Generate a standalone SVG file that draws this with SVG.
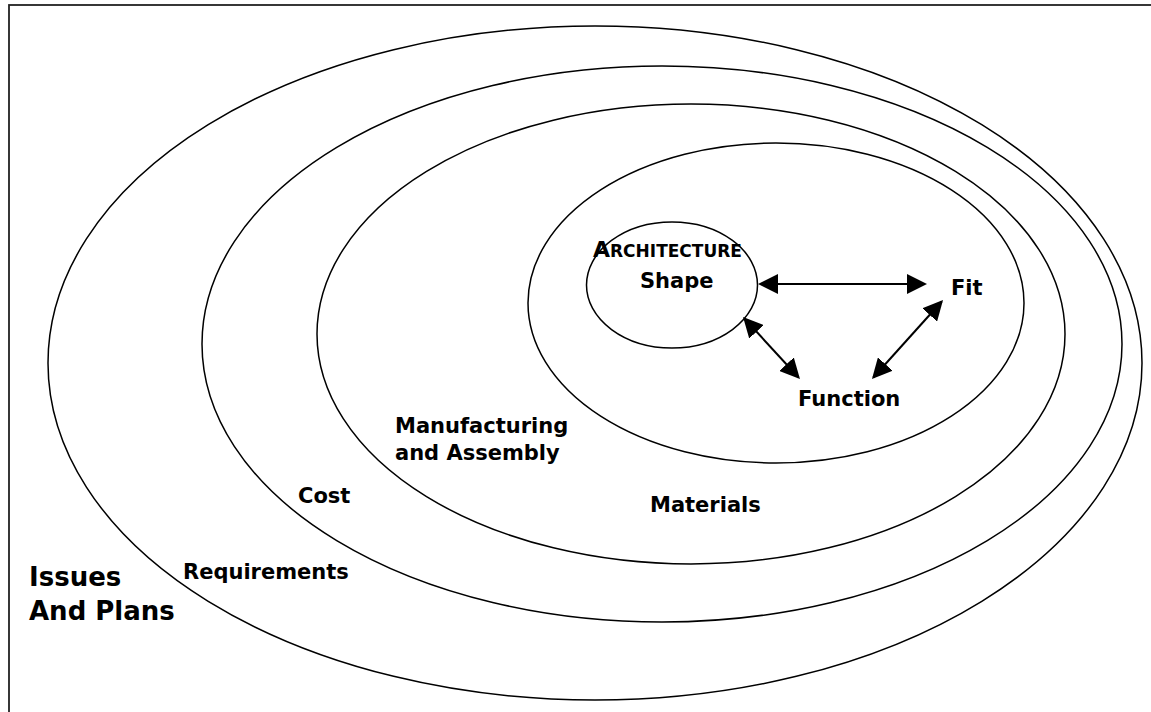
<svg xmlns="http://www.w3.org/2000/svg" width="1151" height="712" viewBox="0 0 1151 712">
  <style>
    .ring { fill: none; stroke: #000; stroke-width: 1.5; }
    .lbl { font-family: "DejaVu Sans", Verdana, sans-serif; font-weight: bold; font-size: 21px; fill: #000; }
    .big { font-size: 26px; }
    .link { stroke: #000; stroke-width: 2; fill: none; marker-start: url(#head); marker-end: url(#head); }
  </style>
  <defs>
    <marker id="head" markerUnits="userSpaceOnUse" markerWidth="20" markerHeight="20" refX="18" refY="10" orient="auto-start-reverse">
      <path d="M0,0 L20,10 L0,20 Z" fill="#000"/>
    </marker>
  </defs>

  <rect x="9" y="5" width="1160" height="720" fill="#fff" stroke="#222" stroke-width="1.8"/>

  <!-- nested scopes, outermost first -->
  <g id="issues-plans">
    <ellipse class="ring" cx="595" cy="363" rx="547" ry="337"/>
    <text class="lbl big" x="29" y="586">Issues</text>
    <text class="lbl big" x="29" y="620">And Plans</text>
  </g>
  <g id="requirements">
    <ellipse class="ring" cx="662" cy="344" rx="460" ry="278"/>
    <text class="lbl" x="183" y="579">Requirements</text>
  </g>
  <g id="cost">
    <ellipse class="ring" cx="691" cy="334" rx="374" ry="230"/>
    <text class="lbl" x="298" y="503">Cost</text>
  </g>
  <g id="manufacturing">
    <text class="lbl" x="395" y="433">Manufacturing</text>
    <text class="lbl" x="395" y="460">and Assembly</text>
  </g>
  <g id="materials">
    <ellipse class="ring" cx="776" cy="303" rx="248" ry="160"/>
    <text class="lbl" x="650" y="512">Materials</text>
  </g>
  <g id="architecture-shape">
    <ellipse class="ring" cx="672" cy="285" rx="85.5" ry="63"/>
    <text class="lbl" x="593" y="257"><tspan font-size="22">A</tspan><tspan font-size="17">RCHITECTURE</tspan></text>
    <text class="lbl" x="640" y="288">Shape</text>
  </g>
  <g id="fit">
    <text class="lbl" x="951" y="295">Fit</text>
  </g>
  <g id="function">
    <text class="lbl" x="798" y="406">Function</text>
  </g>

  <g id="connectors">
    <line class="link" x1="760" y1="284" x2="925" y2="284"/>
    <line class="link" x1="744.4" y1="318.5" x2="798.6" y2="377.5"/>
    <line class="link" x1="941.7" y1="301.5" x2="873.3" y2="377.5"/>
  </g>
</svg>
